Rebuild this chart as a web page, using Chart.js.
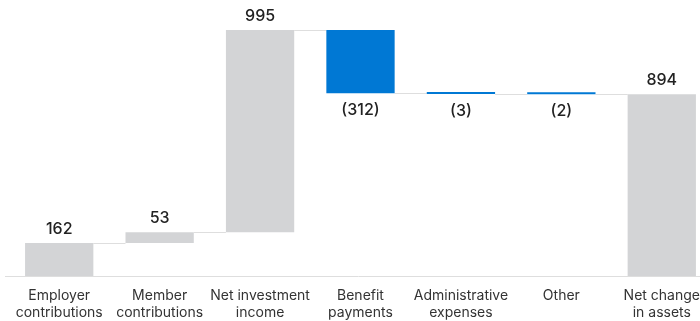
<!DOCTYPE html>
<html>
<head>
<meta charset="utf-8">
<script src="https://cdn.jsdelivr.net/npm/chart.js@4"></script>
<style>
  html, body { margin: 0; padding: 0; background: #fff; overflow: hidden; }
  #clip { width: 700px; height: 321px; overflow: hidden; }
  #wrap { width: 712px; height: 325px; position: relative; }
</style>
</head>
<body>
<div id="clip"><div id="wrap"><canvas id="waterfall"></canvas></div></div>
<script>
const categories = [
  ["Employer", "contributions"],
  ["Member", "contributions"],
  ["Net investment", "income"],
  ["Benefit", "payments"],
  ["Administrative", "expenses"],
  ["Other"],
  ["Net change", "in assets"],
];
const changes = [162, 53, 995, -312, -3, -2];
const netChange = 894;
const valueLabels = ["162", "53", "995", "(312)", "(3)", "(2)", "894"];

const GREY = "#d3d4d6";
const BLUE = "#0078d4";

// running totals -> floating bars [start, end]
let running = 0;
const floating = changes.map((v) => {
  const start = running;
  running += v;
  return [start, running];
});
floating.push([0, netChange]);

const barColors = floating.map((d, i) =>
  i < changes.length && changes[i] < 0 ? BLUE : GREY
);

// thin lines joining each bar to the next at the running level
const connectors = {
  id: "connectors",
  beforeDatasetsDraw(chart) {
    const { ctx, chartArea } = chart;
    const meta = chart.getDatasetMeta(0);
    const y = chart.scales.y;
    ctx.save();
    ctx.strokeStyle = "#dedede";
    ctx.lineWidth = 1;
    // baseline
    ctx.beginPath();
    ctx.moveTo(chartArea.left - 4, y.getPixelForValue(0) + 0.5);
    ctx.lineTo(chartArea.right, y.getPixelForValue(0) + 0.5);
    ctx.stroke();
    for (let i = 0; i < meta.data.length - 1; i++) {
      const a = meta.data[i];
      const b = meta.data[i + 1];
      const level = Math.round(y.getPixelForValue(floating[i][1])) + 0.5;
      ctx.beginPath();
      ctx.moveTo(a.x + a.width / 2, level);
      ctx.lineTo(b.x - b.width / 2, level);
      ctx.stroke();
    }
    ctx.restore();
  },
};

// value text above rising bars, below falling ones
const valueText = {
  id: "valueText",
  afterDatasetsDraw(chart) {
    const { ctx } = chart;
    const meta = chart.getDatasetMeta(0);
    const y = chart.scales.y;
    ctx.save();
    ctx.fillStyle = "#222";
    ctx.font = "500 16px Inter, 'Open Sans', sans-serif";
    ctx.textAlign = "center";
    ctx.textBaseline = "middle";
    meta.data.forEach((bar, i) => {
      const [s, e] = floating[i];
      if (e >= s) {
        ctx.fillText(valueLabels[i], bar.x, y.getPixelForValue(e) - 14);
      } else {
        ctx.fillText(valueLabels[i], bar.x, y.getPixelForValue(e) + 17);
      }
    });
    ctx.restore();
  },
};

const ctx = document.getElementById("waterfall").getContext("2d");

new Chart(ctx, {
  type: "bar",
  data: {
    labels: categories,
    datasets: [
      {
        data: floating,
        backgroundColor: barColors,
        borderWidth: 0,
        barPercentage: 0.68,
        categoryPercentage: 1,
        minBarLength: 2,
      },
    ],
  },
  options: {
    responsive: true,
    maintainAspectRatio: false,
    animation: false,
    layout: { padding: { left: 9, right: 0, top: 0, bottom: 0 } },
    plugins: {
      legend: { display: false },
      tooltip: { enabled: false },
    },
    scales: {
      x: {
        grid: { display: false },
        border: { display: false },
        ticks: {
          color: "#333",
          padding: 3,
          maxRotation: 0,
          autoSkip: false,
          font: { family: "Inter, 'Open Sans', sans-serif", size: 14, lineHeight: 1.25 },
        },
      },
      y: {
        display: false,
        min: 0,
        max: 1357,
      },
    },
  },
  plugins: [connectors, valueText],
});
</script>
</body>
</html>
